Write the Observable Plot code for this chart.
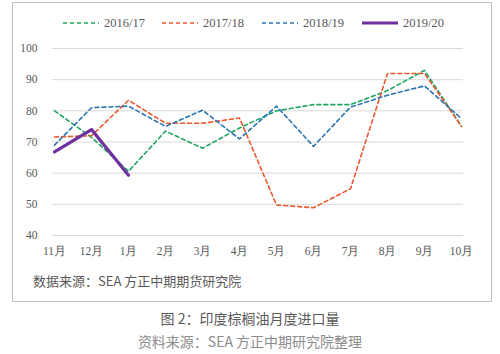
<!DOCTYPE html>
<html><head><meta charset="utf-8">
<script src="https://cdn.jsdelivr.net/npm/d3@7"></script>
<script src="https://cdn.jsdelivr.net/npm/@observablehq/plot@0.6"></script>
<style>
body{margin:0;background:#fff;width:500px;height:354px;overflow:hidden;position:relative;font-family:"Noto Sans CJK SC",sans-serif;}
#box{position:absolute;left:12px;top:2px;width:478px;height:298px;border:1px solid #bfbfbf;}
#chart{position:absolute;left:0;top:0;}
#legend{position:absolute;top:14px;left:0;width:500px;height:18px;font-family:"Liberation Serif",serif;font-size:12.5px;color:#595959;}
.item{position:absolute;top:0;display:flex;align-items:center;height:18px;}
.item svg{margin-right:5px;}
#src{position:absolute;left:33px;top:271px;font-size:13px;color:#595959;}
#cap1{position:absolute;left:0;width:500px;text-align:center;top:308px;font-size:14px;color:#595959;}
#cap2{position:absolute;left:0;width:500px;text-align:center;top:331px;font-size:14px;color:#8c8c8c;}
</style></head>
<body>
<div id="box"></div>
<div id="chart"></div>
<div id="legend"></div>
<div id="src">数据来源：SEA 方正中期期货研究院</div>
<div id="cap1">图 2：印度棕榈油月度进口量</div>
<div id="cap2">资料来源：SEA 方正中期研究院整理</div>
<script>
const months = ["11月","12月","1月","2月","3月","4月","5月","6月","7月","8月","9月","10月"];
const seriesNames = ["2016/17","2017/18","2018/19","2019/20"];
const s1617 = [80, 71.5, 60.6, 73.5, 68, 74.5, 80, 82, 82, 86.5, 93, 75];
const s1718 = [71.6, 72, 83.4, 76, 76, 77.7, 49.8, 48.9, 55, 92, 92, 75];
const s1819 = [69, 81, 81.5, 75, 80.2, 71, 81.5, 68.6, 81.2, 85, 88, 77.5];
const s1920 = [66.8, 74, 59.3];
const colors = ["#1fa463","#e8592d","#2b74b3","#7030a0"];
const yTicks = [40,50,60,70,80,90,100];

const allSeries = [s1617, s1718, s1819, s1920];
const data = [];
allSeries.forEach((vals, si) => vals.forEach((v, i) => data.push({month: months[i], value: v, series: seriesNames[si]})));

const chart = Plot.plot({
  width: 500, height: 265,
  marginLeft: 52, marginRight: 37, marginTop: 48, marginBottom: 30,
  style: {fontFamily: "'Liberation Serif', serif", fontSize: "11.5px", color: "#595959", background: "transparent"},
  x: {type: "point", domain: months, padding: 0, label: null, tickSize: 0, tickPadding: 11},
  y: {domain: [40, 100], ticks: yTicks, label: null, tickSize: 0, tickPadding: 15},
  color: {domain: seriesNames, range: colors},
  marks: [
    Plot.ruleY(yTicks, {stroke: "#d9d9d9", strokeWidth: 1}),
    Plot.axisX({tickSize: 0, tickPadding: 11, label: null}),
    Plot.axisY({ticks: yTicks, tickSize: 0, tickPadding: 15, label: null}),
    ...seriesNames.slice(0,3).map(n => Plot.line(data.filter(d => d.series === n), {
      x: "month", y: "value", stroke: "series", strokeWidth: 1.6, strokeDasharray: "4,3"
    })),
    Plot.line(data.filter(d => d.series === "2019/20"), {x: "month", y: "value", stroke: "series", strokeWidth: 3.2})
  ]
});
document.getElementById("chart").appendChild(chart);

const legend = document.getElementById("legend");
const lx = [63, 162, 262, 362];
seriesNames.forEach((n, i) => {
  const it = document.createElement("div");
  it.className = "item";
  it.style.left = lx[i] + "px";
  const solid = i === 3;
  it.innerHTML = `<svg width="36" height="6"><line x1="0" y1="3" x2="36" y2="3" stroke="${colors[i]}" stroke-width="${solid ? 3.2 : 1.6}" ${solid ? "" : 'stroke-dasharray="4,3"'}/></svg><span>${n}</span>`;
  legend.appendChild(it);
});
</script>
</body></html>
